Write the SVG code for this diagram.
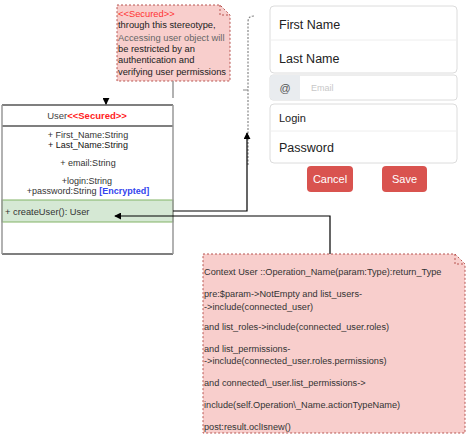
<svg xmlns="http://www.w3.org/2000/svg" width="466" height="438" viewBox="0 0 466 438">
<defs>
<style>
text{font-family:"Liberation Sans",Arial,sans-serif}
.note{fill:#f8cecc;stroke:#b85450;stroke-width:1;stroke-dasharray:2 2}
.nt{font-size:9.35px;fill:#222}
.ocl{font-size:9.2px;fill:#333}
.attr{font-size:9px;fill:#333}
.box{fill:#fff;stroke:#dcdcdc;stroke-width:1}
.ftxt{font-size:12.5px;fill:#222}
.btn{fill:#d9534f}
.btxt{font-size:11px;fill:#fff;text-anchor:middle}
.conn{fill:none;stroke:#000;stroke-width:1.2}
</style>
<marker id="arr" viewBox="0 0 8 8" refX="7" refY="4" markerWidth="7" markerHeight="7" orient="auto" markerUnits="userSpaceOnUse">
<path d="M0,0 L8,4 L0,8 Z" fill="#000"/>
</marker>
</defs>
<rect width="466" height="438" fill="#fff"/>

<g id="note-secured">
<path class="note" d="M117,5 L220,5 L230,15 L230,81 L117,81 Z"/>
<path d="M220,5 L220,15 L230,15" fill="none" stroke="#b85450" stroke-dasharray="2 2"/>
<text x="118" y="17" class="nt" style="fill:#ff3333">&lt;&lt;Secured&gt;&gt;</text>
<text x="118" y="28" class="nt">through this stereotype,</text>
<text x="118" y="41" class="nt" style="fill:#666">Accessing user object  will</text>
<text x="118" y="52" class="nt">be restricted by an</text>
<text x="118" y="63" class="nt">authentication and</text>
<text x="118" y="75" class="nt">verifying user permissions</text>
</g>

<g id="class-user">
<rect x="2" y="105" width="171" height="149" fill="#fff"/>
<rect x="2" y="200" width="171" height="22" fill="#d5e8d4" stroke="#82b366" stroke-width="1"/>
<line x1="2" y1="105" x2="173" y2="105" stroke="#000" stroke-width="1.2"/>
<line x1="2" y1="126" x2="173" y2="126" stroke="#000" stroke-width="1.2"/>
<line x1="2" y1="254" x2="173" y2="254" stroke="#000" stroke-width="1.2"/>
<line x1="2" y1="105" x2="2" y2="254" stroke="#999" stroke-width="1.5"/>
<line x1="173" y1="105" x2="173" y2="254" stroke="#999" stroke-width="1.5"/>
<text x="87" y="119" text-anchor="middle" font-size="9.5" fill="#444">User<tspan fill="#ff2222" font-weight="bold">&lt;&lt;Secured&gt;&gt;</tspan></text>
<text x="88" y="138" text-anchor="middle" class="attr">+ First_Name:String</text>
<text x="88" y="148" text-anchor="middle" class="attr" style="fill:#111">+ Last_Name:String</text>
<text x="88" y="166" text-anchor="middle" class="attr">+ email:String</text>
<text x="87" y="184" text-anchor="middle" class="attr">+login:String</text>
<text x="88" y="194" text-anchor="middle" class="attr">+password:String <tspan fill="#3344ee" font-weight="bold">[Encrypted]</tspan></text>
<text x="5" y="215" class="attr" style="font-size:9.3px">+ createUser(): User</text>
</g>

<g id="form">
<rect class="box" x="270" y="6" width="187" height="67" rx="4"/>
<line x1="270" y1="40" x2="457" y2="40" stroke="#eeeeee"/>
<text x="279" y="29" class="ftxt">First Name</text>
<text x="279" y="63" class="ftxt">Last Name</text>
<rect class="box" x="270" y="75" width="187" height="25" rx="3"/>
<path d="M273,75 L300,75 L300,100 L273,100 Q270,100 270,97 L270,78 Q270,75 273,75 Z" fill="#e9ecef"/>
<text x="285" y="92" text-anchor="middle" font-size="11" fill="#555">@</text>
<text x="311" y="91" font-size="9" fill="#c8c8c8">Email</text>
<rect class="box" x="270" y="104" width="187" height="59" rx="4"/>
<line x1="270" y1="131" x2="457" y2="131" stroke="#eeeeee"/>
<text x="279" y="122" font-size="11" fill="#222">Login</text>
<text x="279" y="152" class="ftxt">Password</text>
<rect class="btn" x="307" y="166" width="46" height="26" rx="4"/>
<text x="330" y="183" class="btxt">Cancel</text>
<rect class="btn" x="382" y="166" width="45" height="26" rx="4"/>
<text x="404.5" y="183" class="btxt">Save</text>
</g>

<g id="note-ocl">
<path class="note" d="M203,254 L455,254 L465,264 L465,433 L203,433 Z"/>
<path d="M455,254 L455,264 L465,264" fill="none" stroke="#b85450" stroke-dasharray="2 2"/>
<text x="204" y="275" class="ocl">Context User ::Operation_Name(param:Type):return_Type</text>
<text x="204" y="297" class="ocl">pre:$param-&gt;NotEmpty and list_users-</text>
<text x="204" y="310" class="ocl">-&gt;include(connected_user)</text>
<text x="204" y="330" class="ocl">and list_roles-&gt;include(connected_user.roles)</text>
<text x="204" y="352" class="ocl">and list_permissions-</text>
<text x="204" y="364" class="ocl">-&gt;include(connected_user.roles.permissions)</text>
<text x="204" y="386" class="ocl">and connected\_user.list_permissions-&gt;</text>
<text x="204" y="408" class="ocl">include(self.Operation\_Name.actionTypeName)</text>
<text x="204" y="430" class="ocl">post:result.oclIsnew()</text>
</g>

<g id="connectors">
<line x1="173" y1="81" x2="173" y2="98" stroke="#999" stroke-width="1.5"/>
<path class="conn" d="M106,98 L106,104" marker-end="url(#arr)"/>
<path d="M254,16 Q248,16 248,22 L248,165" fill="none" stroke="#888" stroke-width="1.2" stroke-dasharray="2 1.5"/>
<line x1="243" y1="90" x2="248" y2="90" stroke="#888" stroke-width="1"/>
<path class="conn" d="M173,211 L247,211 L247,133" marker-end="url(#arr)"/>
<path class="conn" d="M330,254 L330,216 L115,216" marker-end="url(#arr)"/>
</g>
</svg>
